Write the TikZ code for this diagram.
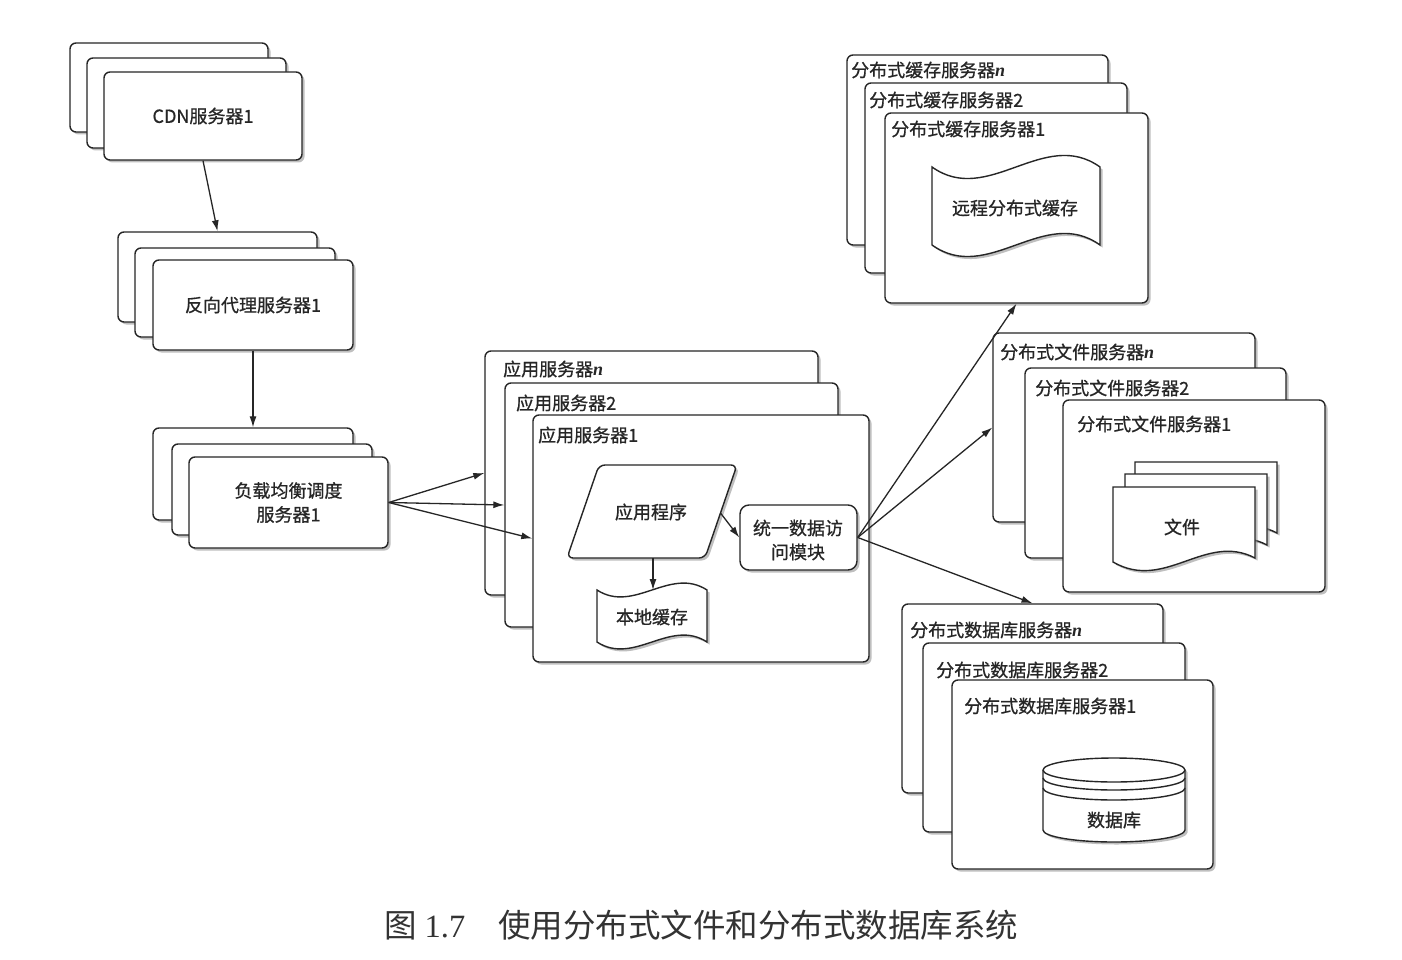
\documentclass[tikz,border=0pt]{standalone}
\usepackage{fontspec}
\newfontfamily\cjk[FakeBold=0.8]{Noto Sans CJK SC}
\newfontfamily\cjkcap{Noto Sans CJK SC}
\newfontfamily\ltn{Liberation Serif}
\usetikzlibrary{arrows.meta,fit,shadows}
\newcommand{\nn}{{\ltn\bfseries\itshape n}}
\tikzset{
  shd/.style={drop shadow={shadow xshift=2.5pt,shadow yshift=-2.5pt,fill=black!45,opacity=0.55}},
  srv/.style={draw=black!85, line width=1.4pt, fill=white, rounded corners=6pt, inner sep=0pt, shd},
  shp/.style={draw=black!85, line width=1.4pt, fill=white, shd},
  lbl/.style={font=\cjk\fontsize{18}{21}\selectfont, text=black!85, anchor=west, inner sep=0pt},
  txt/.style={font=\cjk\fontsize{18}{24}\selectfont, text=black!85, align=center, inner sep=0pt},
  arr/.style={draw=black!85, line width=1.3pt, -{Latex[length=11pt,width=7pt]}},
}
\begin{document}
\begin{tikzpicture}[x=1pt,y=-1pt]
\fill[white] (0,0) rectangle (1402,960);
\useasboundingbox (0,0) rectangle (1402,960);

% CDN stack
\node[srv, fit={(70,43) (268,132)}] (cdn3) {};
\node[srv, fit={(87,58) (286,148)}] (cdn2) {};
\node[srv, fit={(104,72) (302,160)}] (cdn1) {};
\node[txt] (cdnt) at (cdn1.center) {CDN服务器1};

% reverse proxy stack
\node[srv, fit={(118,232) (317,322)}] (rp3) {};
\node[srv, fit={(135,248) (335,337)}] (rp2) {};
\node[srv, fit={(153,260) (353,350)}] (rp1) {};
\node[txt] (rpt) at (rp1.center) {反向代理服务器1};

% load balancer stack
\node[srv, fit={(153,428) (353,520)}] (lb3) {};
\node[srv, fit={(172,444) (372,535)}] (lb2) {};
\node[srv, fit={(189,457) (388,548)}] (lb1) {};
\node[txt] (lbt) at (lb1.center) {负载均衡调度\\服务器1};

% application servers
\node[srv, fit={(485,351) (818,595)}] (apn) {};
\node[lbl] (apnl) at (503,369) {应用服务器\nn};
\node[srv, fit={(505,383) (838,627)}] (ap2) {};
\node[lbl] (ap2l) at (516,403) {应用服务器2};
\node[srv, fit={(533,415) (869,662)}] (ap1) {};
\node[lbl] (ap1l) at (538,435) {应用服务器1};

% application program (parallelogram)
\path[shp, rounded corners=6pt] (567,558) -- (599,465) -- (737,465) -- (705,558) -- cycle;
\node[txt] (prog) at (651,512) {应用程序};
\coordinate (progR) at (720.5,513);
\coordinate (progB) at (653,558);

% local cache (tape)
\path[shp] (597,590) .. controls (634,614) and (670,566) .. (707,590) -- (707,642)
  .. controls (670,618) and (634,666) .. (597,642) -- cycle;
\node[txt] (lc) at (652,617) {本地缓存};
\coordinate (lcT) at (653,590);

% unified data access module
\node[srv, rounded corners=9pt, fit={(740,505) (857,570)}] (dm) {};
\node[txt] (dmt) at (798,540) {统一数据访\\问模块};

% distributed cache servers
\node[srv, fit={(847,55) (1108,245)}] (can) {};
\node[lbl] (canl) at (851,70) {分布式缓存服务器\nn};
\node[srv, fit={(865,83) (1127,273)}] (ca2) {};
\node[lbl] (ca2l) at (869,100) {分布式缓存服务器2};
\node[srv, fit={(885,113) (1148,303)}] (ca1) {};
\node[lbl] (ca1l) at (891,129) {分布式缓存服务器1};
\path[shp] (932,167) .. controls (988,207) and (1044,127) .. (1100,167) -- (1100,245)
  .. controls (1044,205) and (988,285) .. (932,245) -- cycle;
\node[txt] (rc) at (1015,208) {远程分布式缓存};

% distributed file servers
\node[srv, fit={(993,333) (1255,522)}] (fin) {};
\node[lbl] (finl) at (1000,352) {分布式文件服务器\nn};
\node[srv, fit={(1025,368) (1286,558)}] (fi2) {};
\node[lbl] (fi2l) at (1035,388) {分布式文件服务器2};
\node[srv, fit={(1063,400) (1325,592)}] (fi1) {};
\node[lbl] (fi1l) at (1077,424) {分布式文件服务器1};
\foreach \dx/\dy in {22/-25, 12/-13, 0/0}{
  \path[shp, shift={(\dx,\dy)}] (1113,487) -- (1255,487) -- (1255,558)
    .. controls (1205,532) and (1165,592) .. (1113,562) -- cycle;
}
\node[txt] (doc) at (1182,527) {文件};

% distributed database servers
\node[srv, fit={(902,604) (1163,793)}] (dbn) {};
\node[lbl] (dbnl) at (910,630) {分布式数据库服务器\nn};
\node[srv, fit={(923,643) (1185,832)}] (db2) {};
\node[lbl] (db2l) at (936,670) {分布式数据库服务器2};
\node[srv, fit={(952,680) (1213,869)}] (db1) {};
\node[lbl] (db1l) at (964,706) {分布式数据库服务器1};
\path[shp] (1043,770) -- (1043,830) arc[start angle=180,end angle=360,x radius=71pt,y radius=12pt]
  -- (1185,770) arc[start angle=0,end angle=180,x radius=71pt,y radius=12pt] -- cycle;
\draw[draw=black!85, line width=1.4pt] (1043,770) arc[start angle=180,end angle=360,x radius=71pt,y radius=12pt];
\draw[draw=black!85, line width=1.4pt] (1043,778) arc[start angle=180,end angle=360,x radius=71pt,y radius=12pt];
\draw[draw=black!85, line width=1.4pt] (1043,788) arc[start angle=180,end angle=360,x radius=71pt,y radius=12pt];
\node[txt] (dbt) at (1114,820) {数据库};

% connectors
\draw[arr] (cdn1.south) -- (rp3.north);
\draw[arr] (rp1.south) -- (lb3.north);
\draw[arr] (lb1.east) -- (apn.west);
\draw[arr] (lb1.east) -- (ap2.west);
\draw[arr] (lb1.east) -- (ap1.west);
\draw[arr] (progR) -- (dm.west);
\draw[arr] (progB) -- (lcT);
\draw[arr] (dm.east) -- (ca1.south);
\draw[arr] (dm.east) -- (fin.west);
\draw[arr] (dm.east) -- (dbn.north);

% caption
\node[anchor=west, inner sep=0pt, text=black!80, font=\fontsize{32.5}{38}\selectfont] (cap) at (384,925)
  {{\cjkcap 图}\hspace{8pt}{\ltn 1.7}\hspace{33pt}{\cjkcap 使用分布式文件和分布式数据库系统}};
\end{tikzpicture}
\end{document}
